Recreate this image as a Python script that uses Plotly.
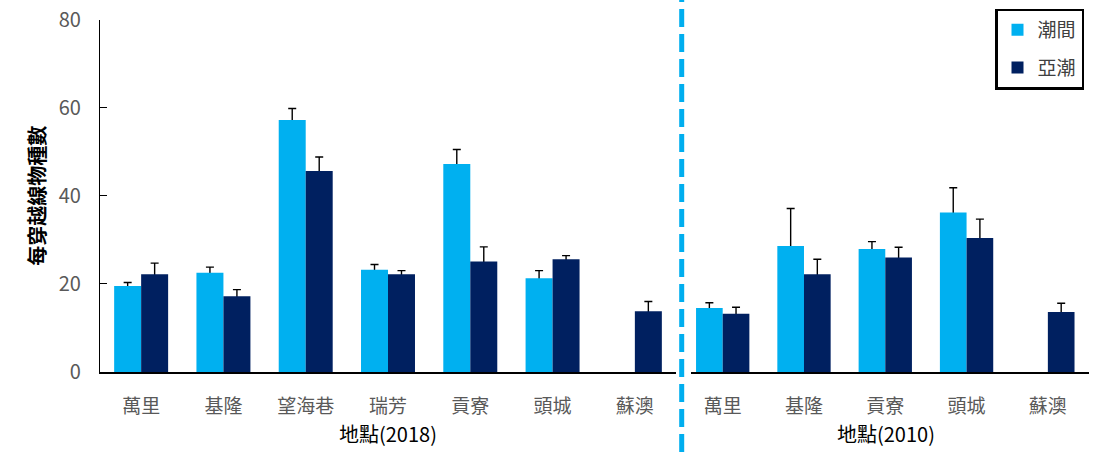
import plotly.graph_objects as go

# ---- data ----
sites_2018 = ['萬里', '基隆', '望海巷', '瑞芳', '貢寮', '頭城', '蘇澳']
inter_2018 = [19.5, 22.5, 57.2, 23.2, 47.2, 21.3, None]
inter_2018_err = [0.8, 1.3, 2.6, 1.2, 3.3, 1.7, None]
sub_2018 = [22.2, 17.2, 45.6, 22.2, 25.1, 25.6, 13.8]
sub_2018_err = [2.5, 1.5, 3.2, 0.8, 3.3, 0.8, 2.2]

sites_2010 = ['萬里', '基隆', '貢寮', '頭城', '蘇澳']
inter_2010 = [14.5, 28.6, 27.9, 36.2, None]
inter_2010_err = [1.2, 8.5, 1.7, 5.6, None]
sub_2010 = [13.2, 22.2, 26.0, 30.4, 13.6]
sub_2010_err = [1.5, 3.4, 2.3, 4.3, 2.0]

y_ticks = [0, 20, 40, 60, 80]
series_names = ['潮間', '亞潮']
colors = ['#00B0F0', '#002060']

FONT = 'Noto Sans CJK TC, Noto Sans, sans-serif'
W, H = 1104, 452

fig = go.Figure()


def add_panel(xcats, inter, inter_err, sub, sub_err, xa, ya, show_legend):
    # error bar carrier traces (drawn first so real bars hide the lower half)
    for k, (vals, errs) in enumerate([(inter, inter_err), (sub, sub_err)]):
        fig.add_trace(go.Bar(
            x=xcats, y=vals, offsetgroup=str(k), xaxis=xa, yaxis=ya,
            marker=dict(color='rgba(0,0,0,0)', line=dict(width=0)),
            error_y=dict(type='data', array=errs, symmetric=True,
                         color='black', thickness=1.4, width=4),
            showlegend=False, hoverinfo='skip'))
    for k, vals in enumerate([inter, sub]):
        fig.add_trace(go.Bar(
            x=xcats, y=vals, offsetgroup=str(k), xaxis=xa, yaxis=ya,
            name=series_names[k], legendgroup=series_names[k],
            marker=dict(color=colors[k], line=dict(width=0)),
            showlegend=show_legend))


add_panel(sites_2018, inter_2018, inter_2018_err, sub_2018, sub_2018_err, 'x', 'y', True)
add_panel(sites_2010, inter_2010, inter_2010_err, sub_2010, sub_2010_err, 'x2', 'y2', False)

y_dom = [(H - 372) / H, (H - 19.5) / H]

xaxis_common = dict(type='category', showline=True, linecolor='black', linewidth=1.5,
                    ticks='', showgrid=False, zeroline=False,
                    tickfont=dict(family=FONT, size=19, color='#595959'),
                    ticklabelstandoff=16)

fig.update_layout(
    width=W, height=H,
    margin=dict(l=0, r=0, t=0, b=0, autoexpand=False),
    paper_bgcolor='white', plot_bgcolor='white',
    barmode='group', bargap=0.344, bargroupgap=0,
    font=dict(family=FONT, color='#595959'),
    xaxis=dict(domain=[100 / W, 676 / W], range=[-0.5, 6.5], **xaxis_common),
    xaxis2=dict(domain=[691 / W, 1088.5 / W], range=[-0.39, 4.5], anchor='y2', **xaxis_common),
    yaxis=dict(domain=y_dom, range=[0, 80], tickvals=y_ticks, showline=True,
               linecolor='black', linewidth=1.3, ticks='inside', ticklen=7,
               tickwidth=1.3, tickcolor='black', showgrid=False, zeroline=False,
               tickfont=dict(family=FONT, size=20, color='#595959'),
               ticklabelstandoff=14),
    yaxis2=dict(domain=y_dom, range=[0, 80], anchor='x2', visible=False),
    legend=dict(x=995 / W, y=1 - 8.5 / H, xanchor='left', yanchor='top',
                bordercolor='black', borderwidth=2.5, bgcolor='white',
                font=dict(family=FONT, size=19, color='#404040'),
                tracegroupgap=10, traceorder='grouped'),
    shapes=[dict(type='line', xref='paper', yref='paper',
                 x0=681.7 / W, x1=681.7 / W, y0=0, y1=1,
                 line=dict(color='#00AEEF', width=5, dash='18px,7px'))],
    annotations=[
        dict(text='每穿越線物種數', xref='paper', yref='paper', x=37 / W,
             y=1 - 195.75 / H, xanchor='center', yanchor='middle',
             textangle=-90, showarrow=False,
             font=dict(family=FONT, size=20, color='black', weight='bold')),
        dict(text='地點(2018)', xref='paper', yref='paper', x=388 / W,
             y=1 - 433 / H, xanchor='center', yanchor='middle', showarrow=False,
             font=dict(family=FONT, size=20, color='black')),
        dict(text='地點(2010)', xref='paper', yref='paper', x=886 / W,
             y=1 - 433 / H, xanchor='center', yanchor='middle', showarrow=False,
             font=dict(family=FONT, size=20, color='black')),
    ],
)

fig.write_html('out.html', config={'displayModeBar': False},
               post_script="document.body.style.margin='0';document.body.style.overflow='hidden';")
